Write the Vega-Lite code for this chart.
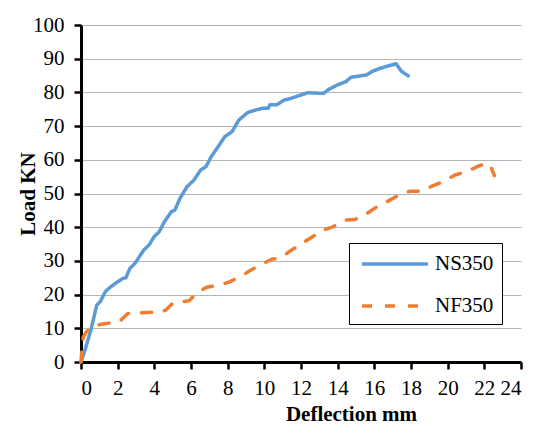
{
  "$schema": "https://vega.github.io/schema/vega-lite/v6.json",
  "width": 440,
  "height": 337,
  "autosize": "none",
  "padding": {"left": 81, "top": 25, "right": 21, "bottom": 74},
  "background": "white",
  "data": {
    "values": [
      {"series": "NS350", "d": 0, "L": 0},
      {"series": "NS350", "d": 0.22, "L": 3.6},
      {"series": "NS350", "d": 0.54, "L": 9.5},
      {"series": "NS350", "d": 0.86, "L": 16.9},
      {"series": "NS350", "d": 1.05, "L": 17.9},
      {"series": "NS350", "d": 1.33, "L": 20.9},
      {"series": "NS350", "d": 1.62, "L": 22.3},
      {"series": "NS350", "d": 2.0, "L": 23.8},
      {"series": "NS350", "d": 2.29, "L": 24.8},
      {"series": "NS350", "d": 2.45, "L": 25.0},
      {"series": "NS350", "d": 2.67, "L": 27.8},
      {"series": "NS350", "d": 2.95, "L": 29.3},
      {"series": "NS350", "d": 3.42, "L": 33.2},
      {"series": "NS350", "d": 3.71, "L": 34.7},
      {"series": "NS350", "d": 3.99, "L": 37.2},
      {"series": "NS350", "d": 4.27, "L": 38.7},
      {"series": "NS350", "d": 4.55, "L": 41.6},
      {"series": "NS350", "d": 4.93, "L": 44.6},
      {"series": "NS350", "d": 5.12, "L": 45.1},
      {"series": "NS350", "d": 5.4, "L": 48.6},
      {"series": "NS350", "d": 5.78, "L": 52.0},
      {"series": "NS350", "d": 6.16, "L": 54.0},
      {"series": "NS350", "d": 6.53, "L": 57.0},
      {"series": "NS350", "d": 6.82, "L": 58.0},
      {"series": "NS350", "d": 7.1, "L": 60.9},
      {"series": "NS350", "d": 7.48, "L": 63.9},
      {"series": "NS350", "d": 7.85, "L": 66.9},
      {"series": "NS350", "d": 8.23, "L": 68.3},
      {"series": "NS350", "d": 8.61, "L": 71.8},
      {"series": "NS350", "d": 9.08, "L": 74.0},
      {"series": "NS350", "d": 9.55, "L": 74.8},
      {"series": "NS350", "d": 9.93, "L": 75.3},
      {"series": "NS350", "d": 10.21, "L": 75.3},
      {"series": "NS350", "d": 10.3, "L": 76.3},
      {"series": "NS350", "d": 10.68, "L": 76.3},
      {"series": "NS350", "d": 11.06, "L": 77.7},
      {"series": "NS350", "d": 11.44, "L": 78.2},
      {"series": "NS350", "d": 11.81, "L": 78.9},
      {"series": "NS350", "d": 12.38, "L": 79.9},
      {"series": "NS350", "d": 13.23, "L": 79.7},
      {"series": "NS350", "d": 13.51, "L": 80.9},
      {"series": "NS350", "d": 13.98, "L": 82.2},
      {"series": "NS350", "d": 14.45, "L": 83.2},
      {"series": "NS350", "d": 14.73, "L": 84.5},
      {"series": "NS350", "d": 15.59, "L": 85.2},
      {"series": "NS350", "d": 15.87, "L": 86.2},
      {"series": "NS350", "d": 16.34, "L": 87.2},
      {"series": "NS350", "d": 17.19, "L": 88.5},
      {"series": "NS350", "d": 17.47, "L": 86.3},
      {"series": "NS350", "d": 17.85, "L": 84.9},
      {"series": "NF350", "d": 0, "L": 0},
      {"series": "NF350", "d": 0.05, "L": 4.0},
      {"series": "NF350", "d": 0.12, "L": 7.3},
      {"series": "NF350", "d": 0.3, "L": 9.0},
      {"series": "NF350", "d": 0.5, "L": 10.0},
      {"series": "NF350", "d": 0.8, "L": 10.8},
      {"series": "NF350", "d": 1.2, "L": 11.3},
      {"series": "NF350", "d": 1.75, "L": 11.7},
      {"series": "NF350", "d": 2.1, "L": 12.0},
      {"series": "NF350", "d": 2.55, "L": 14.4},
      {"series": "NF350", "d": 3.0, "L": 14.6},
      {"series": "NF350", "d": 4.3, "L": 14.8},
      {"series": "NF350", "d": 4.6, "L": 15.3},
      {"series": "NF350", "d": 5.0, "L": 17.4},
      {"series": "NF350", "d": 5.55, "L": 17.9},
      {"series": "NF350", "d": 5.9, "L": 18.2},
      {"series": "NF350", "d": 6.3, "L": 20.4},
      {"series": "NF350", "d": 6.85, "L": 22.2},
      {"series": "NF350", "d": 7.55, "L": 22.8},
      {"series": "NF350", "d": 8.1, "L": 23.8},
      {"series": "NF350", "d": 8.7, "L": 25.3},
      {"series": "NF350", "d": 9.2, "L": 27.1},
      {"series": "NF350", "d": 9.85, "L": 29.0},
      {"series": "NF350", "d": 10.4, "L": 30.5},
      {"series": "NF350", "d": 10.85, "L": 30.8},
      {"series": "NF350", "d": 11.4, "L": 32.9},
      {"series": "NF350", "d": 12.05, "L": 35.2},
      {"series": "NF350", "d": 12.5, "L": 36.7},
      {"series": "NF350", "d": 13.15, "L": 39.0},
      {"series": "NF350", "d": 13.7, "L": 40.0},
      {"series": "NF350", "d": 14.4, "L": 42.1},
      {"series": "NF350", "d": 14.95, "L": 42.3},
      {"series": "NF350", "d": 15.6, "L": 44.1},
      {"series": "NF350", "d": 16.15, "L": 46.1},
      {"series": "NF350", "d": 16.7, "L": 47.6},
      {"series": "NF350", "d": 17.2, "L": 49.1},
      {"series": "NF350", "d": 17.95, "L": 50.7},
      {"series": "NF350", "d": 18.6, "L": 50.7},
      {"series": "NF350", "d": 19.15, "L": 52.2},
      {"series": "NF350", "d": 19.75, "L": 53.5},
      {"series": "NF350", "d": 20.4, "L": 55.5},
      {"series": "NF350", "d": 21.05, "L": 56.5},
      {"series": "NF350", "d": 21.7, "L": 58.2},
      {"series": "NF350", "d": 22.17, "L": 59.0},
      {"series": "NF350", "d": 22.35, "L": 58.0},
      {"series": "NF350", "d": 22.55, "L": 55.3}
    ]
  },
  "mark": {"type": "line", "strokeWidth": 3.5, "strokeCap": "round", "strokeJoin": "round"},
  "encoding": {
    "x": {
      "field": "d",
      "type": "quantitative",
      "scale": {"domain": [0, 24], "nice": false, "zero": false},
      "axis": {
        "title": "Deflection mm",
        "values": [0, 2, 4, 6, 8, 10, 12, 14, 16, 18, 20, 22, 24],
        "grid": false,
        "labelPadding": 8,
        "titlePadding": 5,
        "titleX": 270
      }
    },
    "y": {
      "field": "L",
      "type": "quantitative",
      "scale": {"domain": [0, 100], "nice": false},
      "axis": {
        "title": "Load KN",
        "values": [0, 10, 20, 30, 40, 50, 60, 70, 80, 90, 100],
        "grid": true,
        "labelPadding": 10,
        "titlePadding": -6
      }
    },
    "color": {
      "field": "series",
      "type": "nominal",
      "scale": {"domain": ["NS350", "NF350"], "range": ["#5B9BD5", "#ED7D31"]},
      "legend": {"title": null}
    },
    "strokeDash": {
      "field": "series",
      "type": "nominal",
      "scale": {"domain": ["NS350", "NF350"], "range": [[1, 0], [10, 13]]},
      "legend": {"title": null}
    }
  },
  "config": {
    "font": "Liberation Serif",
    "view": {"stroke": null},
    "axis": {
      "labelFont": "Liberation Serif",
      "labelFontSize": 21,
      "labelColor": "black",
      "titleFont": "Liberation Serif",
      "titleFontSize": 21,
      "titleFontWeight": "bold",
      "titleColor": "black",
      "domainColor": "black",
      "domainWidth": 3,
      "tickColor": "black",
      "tickWidth": 2.5,
      "tickSize": 7,
      "gridColor": "#B5B5B5",
      "gridWidth": 1.2
    },
    "legend": {
      "orient": "none",
      "legendX": 268,
      "legendY": 218,
      "strokeColor": "black",
      "fillColor": "white",
      "padding": 8,
      "symbolType": "M-3,0H3",
      "symbolSize": 484,
      "symbolOffset": 25,
      "symbolStrokeWidth": 3.5,
      "labelFont": "Liberation Serif",
      "labelFontSize": 21,
      "labelColor": "black",
      "labelOffset": 27,
      "rowPadding": 19
    }
  }
}
